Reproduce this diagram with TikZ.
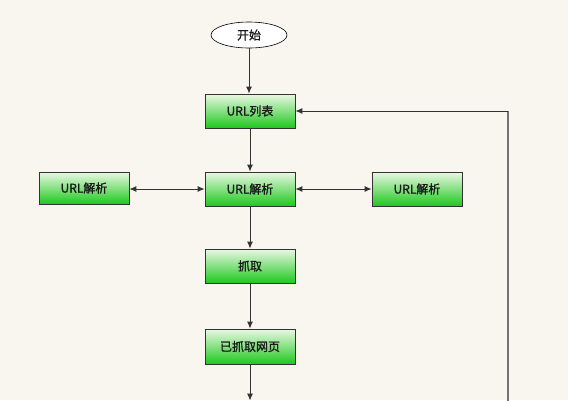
\documentclass[tikz,border=0pt]{standalone}
\usepackage{fontspec}
\newfontfamily\cjk[FakeBold=1.2]{Noto Sans CJK SC}
\usetikzlibrary{arrows.meta,shapes.geometric}
\definecolor{bg}{HTML}{F9F6F0}
\definecolor{boxgreen}{HTML}{1EC81E}
\definecolor{boxtop}{HTML}{EAF8E4}
\definecolor{lineclr}{HTML}{333333}
\tikzset{
  stepbox/.style={draw=black!80, line width=0.8pt, minimum width=90pt, minimum height=34pt,
    top color=boxtop, bottom color=boxgreen, shading angle=0, inner sep=0pt,
    font=\cjk\fontsize{12}{14}\selectfont, text=black!90},
  startnode/.style={ellipse, draw=black, line width=0.6pt, fill=white, minimum width=76pt, minimum height=26pt, inner sep=0pt,
    font=\cjk\fontsize{12}{14}\selectfont, text=black!90},
  conn/.style={draw=lineclr, line width=0.9pt, -{Latex[length=7pt,width=6pt]}},
  biconn/.style={draw=lineclr, line width=0.9pt, {Latex[length=7pt,width=6pt]}-{Latex[length=7pt,width=6pt]}},
  loopline/.style={draw=black!55, line width=1.2pt}
}
\begin{document}
\begin{tikzpicture}[x=1pt,y=-1pt]
\fill[bg] (0,0) rectangle (568,400);
\useasboundingbox (0,0) rectangle (568,400);
\node[startnode] (start) at (249,35) {开始};
\node[stepbox] (list) at (250,111) {URL列表};
\node[stepbox] (parse) at (250,189) {URL解析};
\node[stepbox, minimum height=32pt] (left) at (84,188) {URL解析};
\node[stepbox] (right) at (417,189) {URL解析};
\node[stepbox] (fetch) at (250,266) {抓取};
\node[stepbox, minimum height=35pt] (done) at (250,346.5) {已抓取网页};
\coordinate (bottom) at (250,400.5);
\coordinate (loopb) at (508,402);
\coordinate (loopt) at (508,111);
\draw[conn] (start.south) -- (start.south |- list.north);
\draw[conn] (list) -- (parse);
\draw[biconn] (left.east |- parse) -- (parse.west);
\draw[biconn] (parse) -- (right);
\draw[conn] (parse) -- (fetch);
\draw[conn] (fetch) -- (done);
\draw[conn] (done) -- (bottom);
\draw[loopline] (loopb) -- (loopt);
\draw[conn] (loopt) -- (list.east);
\end{tikzpicture}
\end{document}
